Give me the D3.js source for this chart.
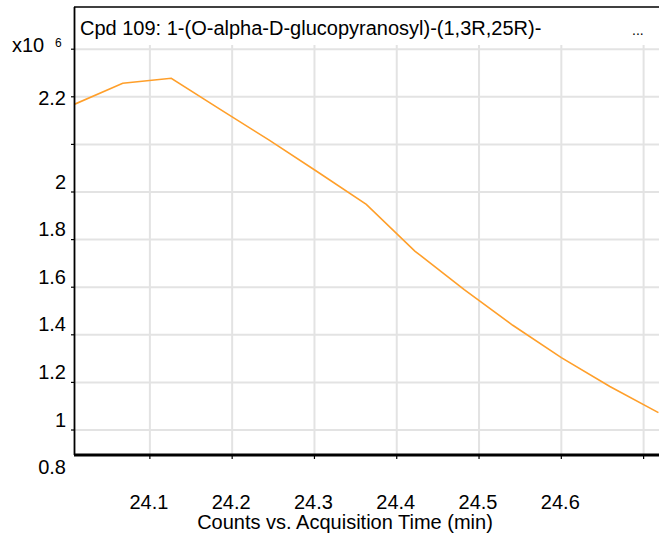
<!DOCTYPE html>
<html>
<head>
<meta charset="utf-8">
<script src="https://cdn.jsdelivr.net/npm/d3@7"></script>
<style>
  html, body { margin: 0; padding: 0; background: #fff; }
  svg { display: block; }
  text { font-family: "Liberation Sans", Arial, Helvetica, sans-serif; fill: #000; }
</style>
</head>
<body>
<svg id="chart" width="659" height="533"></svg>
<script>
// ---- data ----
const times = [24.008, 24.067, 24.126, 24.185, 24.245, 24.304, 24.363, 24.422, 24.482, 24.541, 24.600, 24.659, 24.718];
const counts = [2.368, 2.457, 2.478, 2.348, 2.218, 2.084, 1.948, 1.752, 1.590, 1.440, 1.304, 1.183, 1.073]; // x10^6
const xTicks = [24.1, 24.2, 24.3, 24.4, 24.5, 24.6, 24.7];
const xTickLabels = ["24.1", "24.2", "24.3", "24.4", "24.5", "24.6", ""];
const yGrid = [1.0, 1.2, 1.4, 1.6, 1.8, 2.0, 2.2, 2.4, 2.6];
const yLabels = ["0.8", "1", "1.2", "1.4", "1.6", "1.8", "2", "2.2"];
const yLabelValues = [0.8, 1.0, 1.2, 1.4, 1.6, 1.8, 2.0, 2.2];
const titleText = "Cpd 109: 1-(O-alpha-D-glucopyranosyl)-(1,3R,25R)-";
const xTitle = "Counts vs. Acquisition Time (min)";

// ---- layout ----
const L = 74, R = 659, T = 7, B = 454, gridTop = 45;
const svg = d3.select("#chart");
const x = d3.scaleLinear().domain([24.0078, 24.7187]).range([L, R]);
const y = d3.scaleLinear().domain([0.8992, 2.7773]).range([B, T]);

// grid
const g = svg.append("g");
g.selectAll(".vg").data(xTicks).join("line")
  .attr("x1", d => x(d)).attr("x2", d => x(d))
  .attr("y1", gridTop).attr("y2", B)
  .attr("stroke", "#e3e3e3").attr("stroke-width", 2);
g.selectAll(".hg").data(yGrid).join("line")
  .attr("x1", L).attr("x2", R)
  .attr("y1", d => y(d)).attr("y2", d => y(d))
  .attr("stroke", "#e3e3e3").attr("stroke-width", 2);

// line
svg.append("clipPath").attr("id", "clip").append("rect")
  .attr("x", L).attr("y", T).attr("width", R - L).attr("height", B - T);
const pts = times.map((t, i) => [t, counts[i]]);
svg.append("path")
  .datum(pts)
  .attr("clip-path", "url(#clip)")
  .attr("fill", "none")
  .attr("stroke", "#ff9f2a")
  .attr("stroke-width", 1.6)
  .attr("d", d3.line().x(d => x(d[0])).y(d => y(d[1])));

// frame / axes
svg.append("line").attr("x1", L).attr("x2", R).attr("y1", T).attr("y2", T)
  .attr("stroke", "#000").attr("stroke-width", 1.5);
svg.append("line").attr("x1", L + 0.5).attr("x2", L + 0.5).attr("y1", T).attr("y2", B + 1)
  .attr("stroke", "#000").attr("stroke-width", 1.8);
svg.append("line").attr("x1", L).attr("x2", R).attr("y1", B + 1).attr("y2", B + 1)
  .attr("stroke", "#000").attr("stroke-width", 3);

// ticks
svg.selectAll(".yt").data(yGrid).join("line")
  .attr("x1", L - 3).attr("x2", L).attr("y1", d => y(d)).attr("y2", d => y(d))
  .attr("stroke", "#000").attr("stroke-width", 1.2);
svg.selectAll(".xt").data(xTicks).join("line")
  .attr("x1", d => x(d)).attr("x2", d => x(d)).attr("y1", B).attr("y2", B + 5)
  .attr("stroke", "#000").attr("stroke-width", 1.2);

// y labels (top label sits on its gridline as in the reference)
svg.selectAll(".yl").data(yLabelValues).join("text")
  .attr("x", 66)
  .attr("y", d => d > 2.1 ? y(d + 0.2) + 8 : y(d) - 3.5)
  .attr("text-anchor", "end")
  .attr("font-size", 20)
  .text((d, i) => yLabels[i]);

// x labels
svg.selectAll(".xl").data(xTicks).join("text")
  .attr("x", d => x(d) - 1)
  .attr("y", 509)
  .attr("text-anchor", "middle")
  .attr("font-size", 20)
  .text((d, i) => xTickLabels[i]);

// axis title
svg.append("text").attr("x", 345).attr("y", 529).attr("text-anchor", "middle")
  .attr("font-size", 20).text(xTitle);

// title
svg.append("text").attr("x", 80).attr("y", 35).attr("font-size", 20).text(titleText);
svg.append("text").attr("x", 632).attr("y", 35).attr("font-size", 14).text("...");

// multiplier
svg.append("text").attr("x", 12).attr("y", 52).attr("font-size", 20).text("x10");
svg.append("text").attr("x", 55).attr("y", 47).attr("font-size", 12).text("6");
</script>
</body>
</html>
